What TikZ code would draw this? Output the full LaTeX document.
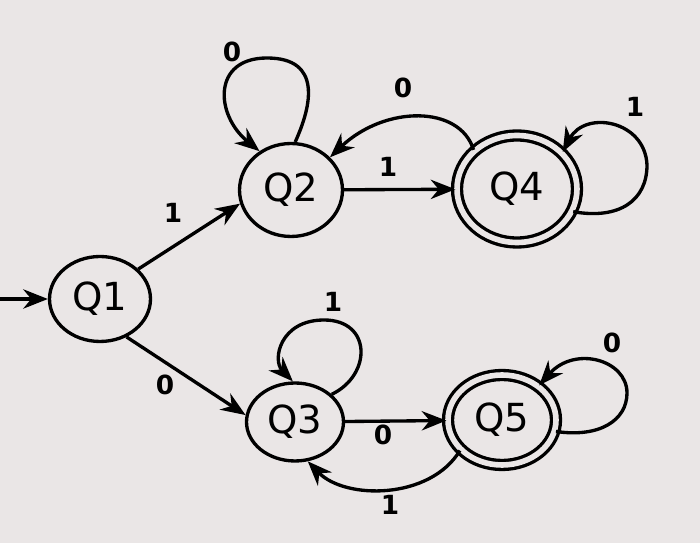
\documentclass[tikz,border=0pt]{standalone}
\usepackage{fontspec}
\setmainfont{DejaVu Sans}
\usetikzlibrary{arrows.meta,shapes.geometric}
\definecolor{bgc}{RGB}{234,230,230}
\begin{document}
\begin{tikzpicture}[x=0.02cm,y=-0.02cm,
  state/.style={ellipse,draw,line width=1.9pt,inner sep=0pt,font=\fontsize{22}{22}\selectfont},
  accept/.style={state,double=bgc,double distance=3.2pt},
  conn/.style={line width=1.9pt,-{Stealth[length=14pt,width=11pt]}},
  lab/.style={font=\fontsize{15}{15}\selectfont\bfseries}]
\fill[bgc] (0,0) rectangle (700,543);
\useasboundingbox (0,0) rectangle (700,543);

\node[state,minimum width=2.02cm,minimum height=1.70cm] (Q1) at (100,299) {Q1};
\node[state,minimum width=2.06cm,minimum height=1.86cm] (Q2) at (291,190) {Q2};
\node[state,minimum width=1.94cm,minimum height=1.56cm] (Q3) at (295,422) {Q3};
\node[accept,minimum width=2.40cm,minimum height=2.14cm] (Q4) at (517,189) {Q4};
\node[accept,minimum width=2.16cm,minimum height=1.80cm] (Q5) at (502,420) {Q5};

\coordinate (S) at (0,299);
\draw[conn] (S) -- (Q1);

\draw[conn] (Q1.38) -- (Q2.195) node[lab] at (173,213) {1};
\draw[conn] (Q1.-55) -- (Q3.172) node[lab] at (165,385) {0};

\draw[conn] (Q2.85) .. controls (312,105) and (322,58) .. (267,58)
  .. controls (212,58) and (215,115) .. (Q2.129) node[lab] at (232,52) {0};
\draw[conn] (Q2) -- (Q4) node[lab] at (388,167) {1};
\draw[conn] (Q4.138) .. controls (460,105) and (385,105) .. (Q2.40) node[lab] at (403,88) {0};
\draw[conn] (Q4.-22) .. controls (620,220) and (647,200) .. (647,165)
  .. controls (645,120) and (585,110) .. (Q4.39) node[lab] at (635,107) {1};

\draw[conn] (Q3.37) .. controls (372,375) and (372,320) .. (324,320)
  .. controls (280,320) and (272,360) .. (Q3.93) node[lab] at (333,302) {1};
\draw[conn] (Q3) -- (Q5) node[lab] at (383,435) {0};
\draw[conn] (Q5.216) .. controls (430,500) and (345,500) .. (Q3.-72) node[lab] at (390,505) {1};
\draw[conn] (Q5.-12) .. controls (600,438) and (627,420) .. (627,393)
  .. controls (627,360) and (575,345) .. (Q5.43) node[lab] at (612,343) {0};
\end{tikzpicture}
\end{document}
